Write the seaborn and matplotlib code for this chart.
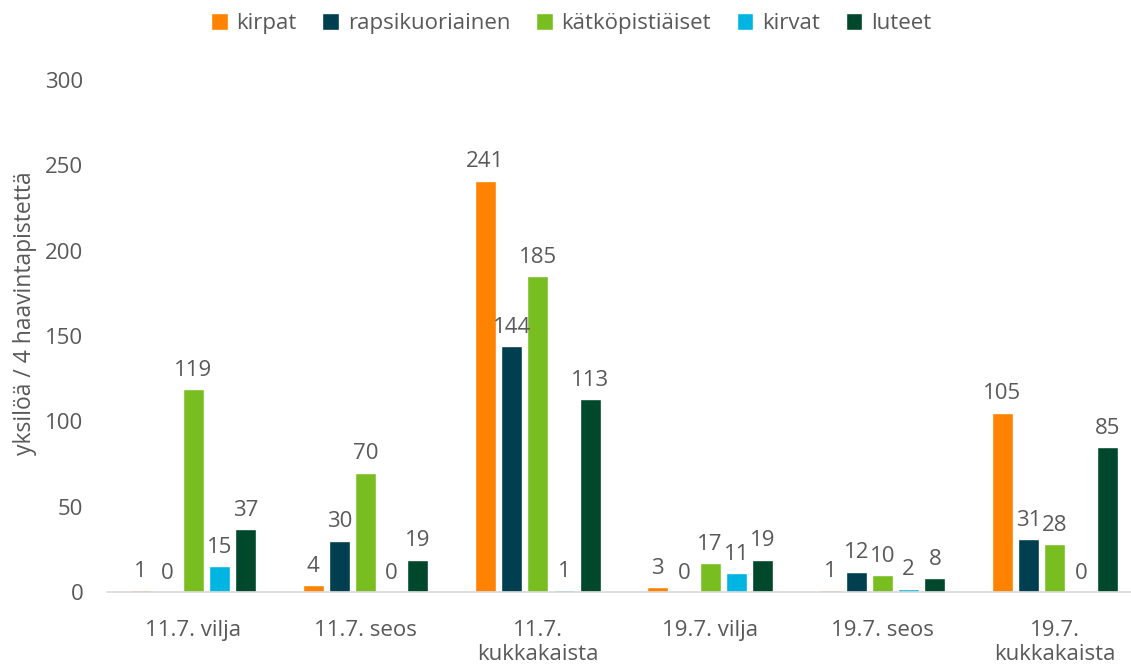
import pandas as pd
import seaborn as sns
import matplotlib.pyplot as plt

# Data
groups = ["11.7. vilja", "11.7. seos", "11.7.\nkukkakaista",
          "19.7. vilja", "19.7. seos", "19.7.\nkukkakaista"]
species = ["kirpat", "rapsikuoriainen", "kätköpistiäiset", "kirvat", "luteet"]
kirpat = [1, 4, 241, 3, 1, 105]
rapsikuoriainen = [0, 30, 144, 0, 12, 31]
katkopistiaiset = [119, 70, 185, 17, 10, 28]
kirvat = [15, 0, 1, 11, 2, 0]
luteet = [37, 19, 113, 19, 8, 85]
colors = ["#FF8200", "#003F4F", "#78BE20", "#00B5E2", "#00482B"]

series = [kirpat, rapsikuoriainen, katkopistiaiset, kirvat, luteet]
rows = []
for name, vals in zip(species, series):
    for g, v in zip(groups, vals):
        rows.append({"ryhmä": g, "laji": name, "arvo": v})
df = pd.DataFrame(rows)

sns.set_style("white")
plt.rcParams['font.family'] = ['Open Sans', 'DejaVu Sans']
text_col = "#595959"
fs = 16

fig = plt.figure(figsize=(11.31, 6.68), dpi=100)
ax = fig.add_axes([107/1131, 76/668, 1034/1131, 512/668])

sns.barplot(data=df, x="ryhmä", y="arvo", hue="laji", order=groups,
            hue_order=species, palette=colors, saturation=1, width=0.76, gap=0.2,
            edgecolor="white", linewidth=1, ax=ax)

for cont in ax.containers:
    ax.bar_label(cont, padding=6, fontsize=fs, color=text_col)

ax.set_ylim(0, 300)
ax.set_yticks(range(0, 301, 50))
ax.set_xlabel("")
ax.set_ylabel("yksilöä / 4 haavintapistettä", fontsize=16.5, color=text_col)
ax.yaxis.set_label_coords(-0.068, 0.545)
ax.tick_params(axis="both", length=0, labelsize=fs, labelcolor=text_col)
ax.tick_params(axis="x", pad=20)
ax.tick_params(axis="y", pad=17)
for s in ["top", "right", "left"]:
    ax.spines[s].set_visible(False)
ax.spines["bottom"].set_color("#D9D9D9")
ax.spines["bottom"].set_linewidth(1.2)

handles, labels = ax.get_legend_handles_labels()
ax.get_legend().remove()
fig.legend(handles, labels, loc="upper center", bbox_to_anchor=(0.505, 1.01),
           ncol=5, frameon=False, fontsize=fs, labelcolor=text_col,
           handlelength=0.75, handleheight=0.75, handletextpad=0.4,
           columnspacing=1.15)

fig.savefig("out.png", dpi=100)
